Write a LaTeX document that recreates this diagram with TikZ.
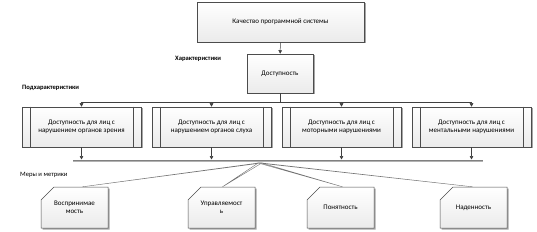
\documentclass[tikz,border=0pt]{standalone}
\usepackage{fontspec}
\setmainfont{Carlito}
\usetikzlibrary{shadows,arrows.meta}
\tikzset{
  boxstyle/.style={draw=black!70, line width=0.5pt, top color=white, bottom color=black!8,
    drop shadow={shadow xshift=1.5pt, shadow yshift=-1.5pt, fill=black!35, opacity=1},
    align=center, inner sep=1pt},
  subbox/.style={boxstyle, minimum width=119pt, minimum height=40pt},
  arr/.style={draw=black!75, line width=0.5pt, -{Triangle[length=3.5pt,width=3.5pt]}},
  cardshape/.style={draw=black!70, line width=0.5pt, top color=white, bottom color=black!8,
    drop shadow={shadow xshift=1.5pt, shadow yshift=-1.5pt, fill=black!35, opacity=1}},
  fanline/.style={draw=black!55, line width=0.4pt, fill=white},
  lbl/.style={anchor=west, inner sep=0pt, font=\fontsize{6.6}{7.6}\selectfont\bfseries},
  cardtext/.style={align=center, inner sep=0pt, minimum width=67pt, minimum height=41pt}
}
\begin{document}
\begin{tikzpicture}[x=1pt,y=-1pt, font=\fontsize{7}{8.4}\selectfont]
\useasboundingbox (0,0) rectangle (537,232);

% top
\node[boxstyle, minimum width=167pt, minimum height=40pt] (top) at (280.5,22) {Качество программной системы};
\node[boxstyle, minimum width=66pt, minimum height=39pt] (dost) at (280,73.5) {Доступность};
\draw[arr] (top) -- (dost);

% labels
\node[lbl] (l1) at (175,59) {Характеристики};
\node[lbl] (l2) at (22,88) {Подхарактеристики};
\node[lbl, font=\fontsize{6.6}{7.6}\selectfont] (l3) at (20,175) {Меры и метрики};

% sub boxes
\node[subbox] (s1) at (81.5,127) {Доступность для лиц с\\нарушением органов зрения};
\node[subbox] (s2) at (211.5,127) {Доступность для лиц с\\нарушением органов слуха};
\node[subbox] (s3) at (341.5,127) {Доступность для лиц с\\моторными нарушениями};
\node[subbox] (s4) at (471.5,127) {Доступность для лиц с\\ментальными нарушениями};
\foreach \s in {s1,s2,s3,s4}{
  \draw[draw=black!70, line width=0.5pt] ([xshift=8pt]\s.north west) -- ([xshift=8pt]\s.south west);
  \draw[draw=black!70, line width=0.5pt] ([xshift=-8pt]\s.north east) -- ([xshift=-8pt]\s.south east);
}

% distribution line
\coordinate (j0) at (280,102);
\coordinate (jL) at (81.5,102);
\coordinate (jR) at (471.5,102);
\draw[draw=black!75, line width=0.5pt] (dost.south) -- (j0);
\draw[draw=black!75, line width=0.5pt] (jL) -- (jR);
\draw[arr] (jL) -- (s1.north);
\draw[arr] (211.5,102) -- (s2.north);
\draw[arr] (341.5,102) -- (s3.north);
\draw[arr] (jR) -- (s4.north);

% bar
\coordinate (barL) at (73,161);
\coordinate (barR) at (483,161);
\draw[draw=black!50, line width=2.4pt] (barL) -- (barR);
\draw[draw=black!30, line width=0.9pt] (barL) -- (barR);
\foreach \s in {s1,s2,s3,s4}{
  \draw[arr] (\s.south) -- (\s.south |- 0,159.5);
}

% cards
\foreach \n/\cx/\t in {m1/74.5/{Воспринимае\\мость}, m2/221.5/{Управляемост\\ь}, m3/340.5/{Понятность}, m4/473.5/{Наденность}}{
  \path[cardshape] (\cx-33.5,200) -- (\cx-20.5,187) -- (\cx+33.5,187) -- (\cx+33.5,228) -- (\cx-33.5,228) -- cycle;
  \node[cardtext] (\n) at (\cx,207.5) {\t};
}

% fan
\coordinate (F) at (260,163);
\foreach \n/\dx in {m1/8, m2/1, m3/2, m4/-1}{
  \path[fanline] ([xshift=-1.8pt]F) -- ([xshift=\dx pt]\n.north) -- ([xshift=1.8pt]F) -- cycle;
}
\end{tikzpicture}
\end{document}
